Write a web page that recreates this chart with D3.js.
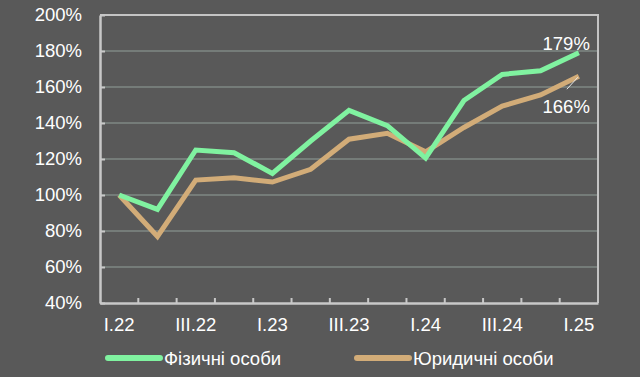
<!DOCTYPE html>
<html>
<head>
<meta charset="utf-8">
<script src="https://cdn.jsdelivr.net/npm/d3@7"></script>
<style>
html,body{margin:0;padding:0;background:#595959;}
svg{display:block;}
</style>
</head>
<body>
<svg id="chart" width="640" height="377"></svg>
<script>
const categories = ["I.22","II.22","III.22","IV.22","I.23","II.23","III.23","IV.23","I.24","II.24","III.24","IV.24","I.25"];
const tickLabels = ["I.22","","III.22","","I.23","","III.23","","I.24","","III.24","","I.25"];
const fizychni = [100, 92, 125, 123.5, 112, 130, 147, 138.5, 120.5, 152.5, 167, 169, 179];
const yurydychni = [100, 77, 108.3, 109.6, 107.2, 114.3, 131, 134.3, 124, 137.5, 149.4, 155.6, 166];
const seriesNames = ["Фізичні особи", "Юридичні особи"];
const seriesColors = ["#80F2A0", "#D2AC78"];
const yTicks = [40, 60, 80, 100, 120, 140, 160, 180, 200];
const endLabels = ["179%", "166%"];

const svg = d3.select("#chart");
const font = "'Liberation Sans', Arial, sans-serif";
const fs = 18.5;
const m = {l:100, t:15, r:598, b:303};

const x = d3.scaleBand().domain(categories).range([m.l, m.r]);
const y = d3.scaleLinear().domain([40, 200]).range([m.b, m.t]);

// gridlines
svg.append("g").selectAll("line").data(yTicks.slice(1, -1)).join("line")
  .attr("x1", m.l).attr("x2", m.r)
  .attr("y1", d => y(d)).attr("y2", d => y(d))
  .attr("stroke", "#7F8884").attr("stroke-width", 1.5);

// frame top/right
svg.append("path")
  .attr("d", `M${m.l},${m.t}H${m.r}V${m.b}`)
  .attr("fill", "none").attr("stroke", "#C4C4C4").attr("stroke-width", 2);

// y axis
const yAxis = svg.append("g").attr("transform", `translate(${m.l},0)`)
  .call(d3.axisLeft(y).tickValues(yTicks).tickFormat(d => d + "%").tickSizeInner(-5).tickSizeOuter(0).tickPadding(18));
yAxis.select(".domain").attr("stroke", "#C8C8C8").attr("stroke-width", 2.5);
yAxis.selectAll(".tick line").attr("stroke", "#C8C8C8").attr("stroke-width", 2);
yAxis.selectAll("text").attr("fill", "#FFFFFF").attr("font-family", font).attr("font-size", fs);

// x axis
const xAxis = svg.append("g").attr("transform", `translate(0,${m.b})`)
  .call(d3.axisBottom(x).tickFormat((d, i) => tickLabels[i]).tickSize(0).tickPadding(15));
xAxis.select(".domain").attr("stroke", "#C8C8C8").attr("stroke-width", 2.5);
xAxis.selectAll("text").attr("fill", "#FFFFFF").attr("font-family", font).attr("font-size", fs);
// category boundary ticks (inward)
svg.append("g").selectAll("line").data(categories.slice(1)).join("line")
  .attr("x1", d => x(d)).attr("x2", d => x(d))
  .attr("y1", m.b).attr("y2", m.b - 5)
  .attr("stroke", "#C8C8C8").attr("stroke-width", 2);

// lines
const line = d3.line().x((d, i) => x(categories[i]) + x.bandwidth() / 2).y(d => y(d));
[yurydychni, fizychni].forEach((s, k) => {
  const idx = k === 0 ? 1 : 0;
  svg.append("path").datum(s)
    .attr("d", line)
    .attr("fill", "none")
    .attr("stroke", seriesColors[idx])
    .attr("stroke-width", 5)
    .attr("stroke-linejoin", "miter");
});

// end labels
const last = categories.length - 1;
const lx = x(categories[last]) + x.bandwidth() / 2;
svg.append("text").attr("x", lx + 11).attr("y", y(fizychni[last]) - 3)
  .attr("text-anchor", "end").attr("fill", "#FFFFFF")
  .attr("font-family", font).attr("font-size", fs).text(endLabels[0]);
svg.append("line")
  .attr("x1", lx - 1).attr("y1", y(yurydychni[last]) + 1)
  .attr("x2", lx - 12).attr("y2", y(yurydychni[last]) + 13)
  .attr("stroke", "#E8E8E8").attr("stroke-width", 1);
svg.append("text").attr("x", lx + 11).attr("y", y(yurydychni[last]) + 37)
  .attr("text-anchor", "end").attr("fill", "#FFFFFF")
  .attr("font-family", font).attr("font-size", fs).text(endLabels[1]);

// legend
const legendX = [108, 357];
seriesNames.forEach((name, i) => {
  const g = svg.append("g");
  g.append("line").attr("x1", legendX[i]).attr("x2", legendX[i] + 52)
    .attr("y1", 358).attr("y2", 358)
    .attr("stroke", seriesColors[i]).attr("stroke-width", 6).attr("stroke-linecap", "round");
  g.append("text").attr("x", legendX[i] + 56).attr("y", 365)
    .attr("fill", "#FFFFFF").attr("font-family", font).attr("font-size", fs).text(name);
});
</script>
</body>
</html>
